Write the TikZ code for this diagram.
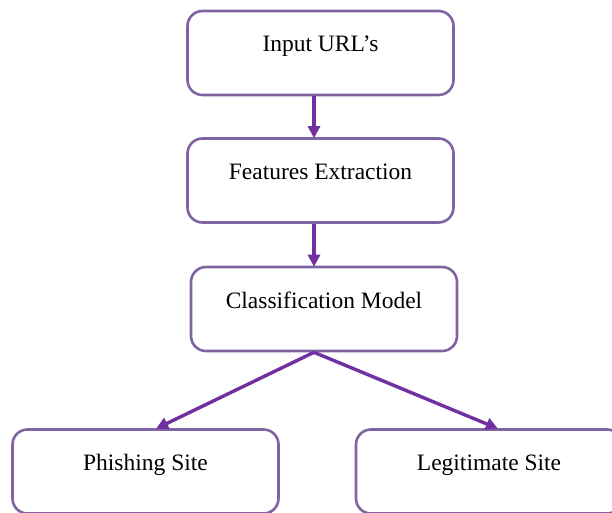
\documentclass[tikz,border=0pt]{standalone}
\usepackage{fontspec}
\setmainfont{Liberation Serif}
\usetikzlibrary{arrows.meta}
\definecolor{boxline}{HTML}{8064A2}
\definecolor{flow}{HTML}{7030A0}
\tikzset{
  stepbox/.style={draw=boxline, line width=2.6pt, rounded corners=15pt,
    minimum width=266pt, minimum height=84pt, inner sep=0pt, fill=white},
  caption/.style={font=\fontsize{23.5}{28}\selectfont, text=black, inner sep=0pt, anchor=center},
  flowarrow/.style={draw=flow, line width=3.4pt,
    -{Triangle[length=12pt,width=12pt]}, shorten >=-1pt}
}
\begin{document}
\begin{tikzpicture}[x=1pt, y=-1pt]
  \useasboundingbox (0,0) rectangle (612,513);
  \clip (0,0) rectangle (612,513);
  \fill[white] (0,0) rectangle (612,513);

  % boxes
  \node[stepbox] (input) at (320.5,53)  {};
  \node[stepbox] (feat)  at (320.5,180.5) {};
  \node[stepbox] (model) at (324,309)   {};
  \node[stepbox] (phish) at (145.5,471.5) {};
  \node[stepbox] (legit) at (489,471.5) {};

  % labels, set in the upper part of each box
  \node[caption] (tinput) at ([yshift=-36pt]input.north) {Input URL’s};
  \node[caption] (tfeat)  at ([yshift=-35pt]feat.north)  {Features Extraction};
  \node[caption] (tmodel) at ([yshift=-35pt]model.north) {Classification Model};
  \node[caption] (tphish) at ([yshift=-37pt]phish.north) {Phishing Site};
  \node[caption] (tlegit) at ([yshift=-37pt]legit.north) {Legitimate Site};

  % connectors
  \draw[flowarrow] ([xshift=-6.5pt]input.south) -- ([xshift=-6.5pt]feat.north);
  \draw[flowarrow] ([xshift=-6.5pt]feat.south)  -- ([xshift=-10pt]model.north);
  \coordinate (split) at ([xshift=-10pt]model.south);
  \draw[flowarrow] (split) -- ([xshift=11.5pt]phish.north);
  \draw[flowarrow] (split) -- ([xshift=8pt]legit.north);
\end{tikzpicture}
\end{document}
